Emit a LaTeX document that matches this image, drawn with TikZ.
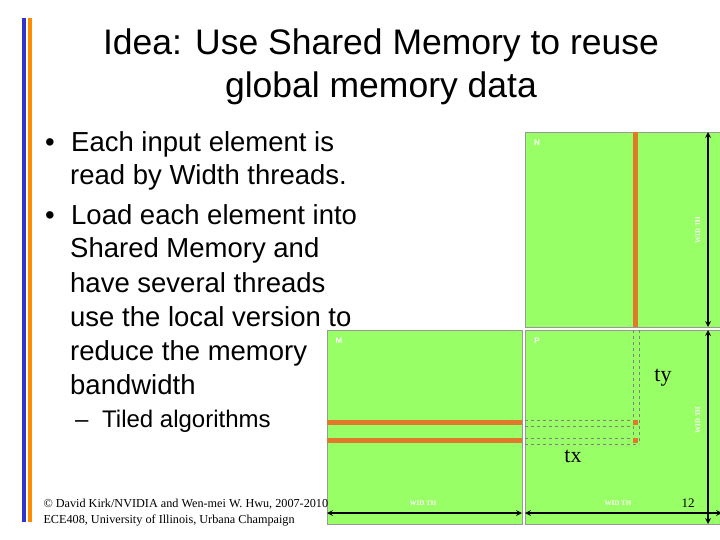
\documentclass[tikz,border=0pt]{standalone}
\usepackage{fontspec}
\setmainfont{Liberation Sans}
\newfontfamily\serifT{Liberation Serif}
\definecolor{mgreen}{HTML}{99FF66}
\definecolor{morange}{HTML}{E0792A}
\begin{document}
\begin{tikzpicture}[x=1pt,y=-1pt,
  mat/.style={draw=black!40,fill=mgreen,line width=0.8pt},
  orng/.style={draw=none,fill=morange},
  dsh/.style={draw=gray,dashed,line width=0.4pt},
  dim/.style={line width=1.6pt,<->,>=stealth},
  wl/.style={text=white,font=\serifT\bfseries\fontsize{7}{7}\selectfont},
  btxt/.style={anchor=base west,font=\fontsize{27.5}{30}\selectfont,inner sep=0pt},
  ttl/.style={anchor=base,font=\fontsize{35.5}{40}\selectfont,inner sep=0pt}]
\useasboundingbox (0,0) rectangle (720,540);
\fill[blue!75!black!80] (22,18) rectangle (26,522);
\fill[orange!90!yellow] (28,18) rectangle (32,522);
\node (t1) at (381,55) [ttl] {Idea: Use Shared Memory to reuse};
\node (t2) at (381,98) [ttl] {global memory data};
\node (d1) at (45,152) [btxt] {\textbullet};
\node (b1) at (71,152) [btxt] {Each input element is};
\node (b1b) at (70,185) [btxt] {read by Width threads.};
\node (d2) at (45,225) [btxt] {\textbullet};
\node (b2) at (71,225) [btxt] {Load each element into};
\node (b2b) at (70,258) [btxt] {Shared Memory and};
\node (b2c) at (70,292) [btxt] {have several threads};
\node (b2d) at (70,326) [btxt] {use the local version to};
\node (b2e) at (70,360) [btxt] {reduce the memory};
\node (b2f) at (70,394) [btxt] {bandwidth};
\node (d3) at (75,427) [btxt,font=\fontsize{24}{26}\selectfont] {--};
\node (b3) at (102,427) [btxt,font=\fontsize{24}{26}\selectfont] {Tiled algorithms};
% matrices
\path[mat] (525,132) rectangle (722,327);
\path[mat] (327,330) rectangle (522,524);
\path[mat] (525,330) rectangle (722,524);
\node (foot) at (40,513) [anchor=west,align=left,font=\serifT\fontsize{12.2}{16}\selectfont] {\textcopyright\ David Kirk/NVIDIA and Wen-mei W. Hwu, 2007-2010\\ECE408, University of Illinois, Urbana Champaign};
\node (N) at (537,143) [text=white,font=\bfseries\fontsize{8}{8}\selectfont] {N};
\node (M) at (339,341) [text=white,font=\bfseries\fontsize{8}{8}\selectfont] {M};
\node (P) at (537,341) [text=white,font=\bfseries\fontsize{8}{8}\selectfont] {P};
\path[orng] (633,132) rectangle (637.5,327);
\path[orng] (327,420) rectangle (522,424.5);
\path[orng] (327,438) rectangle (522,442.5);
\draw[dsh] (525,420) -- (639,420) (525,426) -- (633,426)
  (525,438) -- (639,438) (525,444) -- (639,444)
  (633,330) -- (633,444) (639,330) -- (639,444);
\path[orng] (633,420) rectangle (638,424.5);
\path[orng] (633,438) rectangle (638,442.5);
\node (ty) at (663,378) [font=\serifT\fontsize{22}{22}\selectfont] {ty};
\node (tx) at (573,456) [font=\serifT\fontsize{22}{22}\selectfont] {tx};
\node (tw) at (688,503) [font=\serifT\fontsize{13}{13}\selectfont] {12};
\coordinate (a1) at (708,132); \coordinate (a2) at (708,327);
\coordinate (a3) at (708,330); \coordinate (a4) at (708,524);
\coordinate (h1) at (327,513); \coordinate (h2) at (522,513);
\coordinate (h3) at (525,513); \coordinate (h4) at (722,513);
\draw[dim] (a1) -- (a2);
\draw[dim] (a3) -- (a4);
\draw[dim] (h1) -- (h2);
\draw[dim] (h3) -- (h4);
\node (wn) at (698,230) [wl,rotate=90] {WID TH};
\node (wp) at (698,420) [wl,rotate=90] {WID TH};
\node (wm) at (423,503) [wl] {WID TH};
\node (wpp) at (618,503) [wl] {WID TH};
\end{tikzpicture}
\end{document}
